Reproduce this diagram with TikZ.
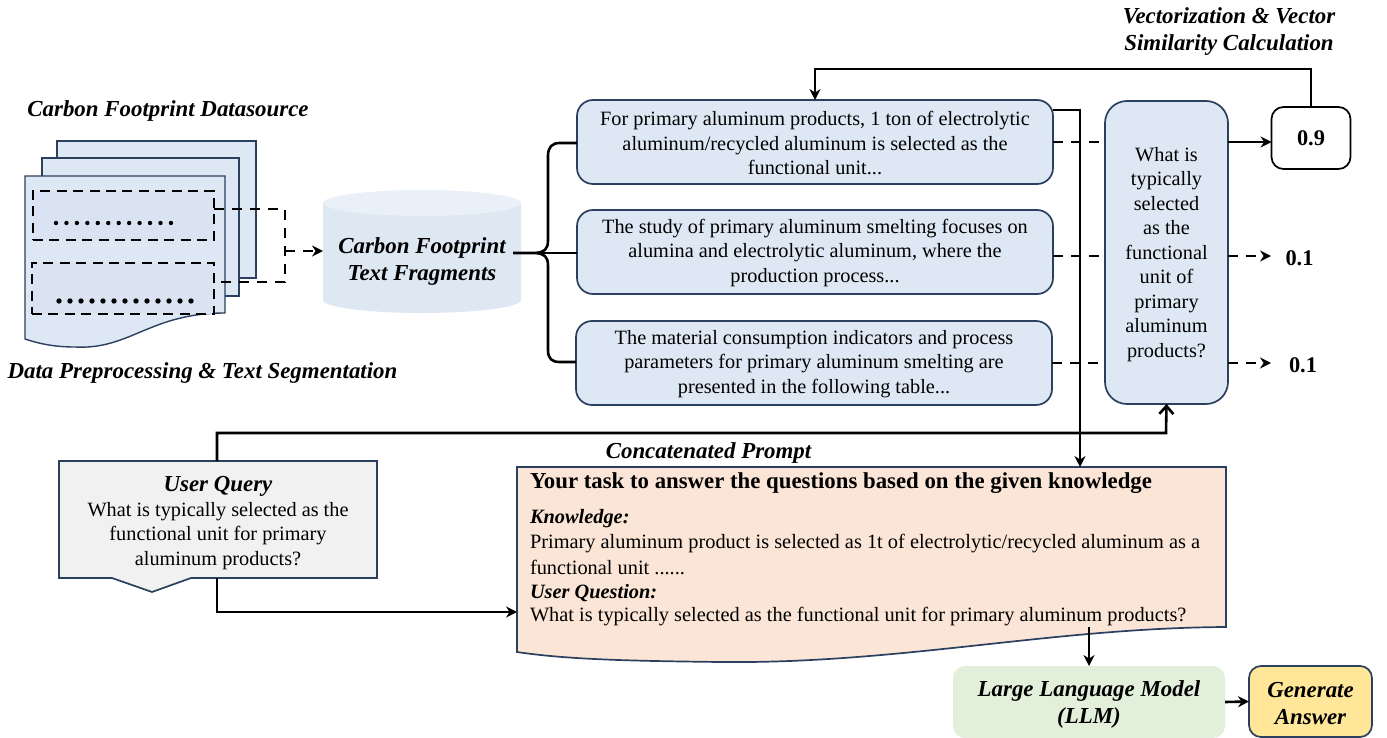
\documentclass[tikz,border=0pt]{standalone}
\usepackage{fontspec}
\setmainfont{Liberation Serif}
\usetikzlibrary{arrows.meta,calc}
\definecolor{bluefill}{HTML}{DEE8F4}
\definecolor{blueedge}{HTML}{2B3F5E}
\definecolor{innerfill}{HTML}{D9E3F2}
\definecolor{cylbody}{HTML}{DDE8F3}
\definecolor{cyltop}{HTML}{E9F0F8}
\definecolor{greyfill}{HTML}{F1F1F2}
\definecolor{peach}{HTML}{FBE5D6}
\definecolor{greenfill}{HTML}{E2EFDA}
\definecolor{yellowfill}{HTML}{FFE699}
\tikzset{
  x=0.5pt,y=-0.5pt,
  every node/.style={inner sep=0pt,outer sep=0pt},
  body/.style={font=\fontsize{10.15}{12.25}\selectfont,align=center},
  boxbody/.style={font=\fontsize{10.15}{12.1}\selectfont,align=center},
  head/.style={font=\fontsize{11.45}{13.5}\selectfont\bfseries\itshape,align=center},
  bluebox/.style={draw=blueedge,fill=bluefill,line width=0.85pt,rounded corners=8pt,minimum width=238pt,minimum height=42pt},
  pagesheet/.style={draw=blueedge,fill=bluefill,line width=0.7pt},
  segbox/.style={draw=black,fill=innerfill,line width=0.95pt,dash pattern=on 5pt off 3.2pt},
  solidline/.style={draw=black,line width=1.3pt},
  solidarrow/.style={solidline,-{Stealth[length=5.5pt,width=5.5pt]}},
  openarrow/.style={solidline,-{Straight Barb[length=4pt,width=7pt]}},
  dashline/.style={draw=black,line width=1pt,dash pattern=on 5pt off 4pt},
  dasharrow/.style={dashline,-{Stealth[length=5.5pt,width=5.5pt]}},
  promptline/.style={font=\fontsize{10.18}{12}\selectfont,anchor=west},
  score/.style={font=\fontsize{11.2}{12}\selectfont\bfseries},
}
\begin{document}
\begin{tikzpicture}
\useasboundingbox (0,0) rectangle (1387,738);
% pages
\draw[pagesheet] (57,141) rectangle (256,278);
\draw[pagesheet] (42,158) rectangle (239,296);
\draw[pagesheet] (25,176) -- (225,176) -- (225,313) .. controls (150,313) and (130,350) .. (75,347) .. controls (55,347) and (40,344) .. (25,339) -- cycle;
% segments
\node[segbox,minimum width=90.5pt,minimum height=24.5pt] (seg1) at (123.5,215.5) {};
\node[segbox,minimum width=91pt,minimum height=25.5pt] (seg2) at (123,288.5) {};
\foreach \i in {0,...,11}{\fill (56+\i*10.45,223) circle[radius=1.1pt];}
\foreach \i in {0,...,12}{\fill (59+\i*11,301) circle[radius=1.35pt];}
% cylinder
\fill[cylbody] (323,203) -- (323,300) arc[start angle=180,end angle=360,x radius=99,y radius=-13] -- (521,203) -- cycle;
\fill[cyltop] (422,203) ellipse[x radius=99,y radius=13];
\node[head,text=black] (frag) at (422,261.5) {Carbon Footprint\\Text Fragments};
\coordinate (cylw) at (323,251);
\coordinate (brace) at (513,253);
% texts
\node[head] (lab1) at (168,111) {Carbon Footprint Datasource};
\node[head] (lab2) at (202.5,373) {Data Preprocessing \& Text Segmentation};
\node[head,anchor=center] (lab3) at (1229,31.5) {Vectorization \& Vector\\Similarity Calculation};
\node[head] (lab4) at (708.5,453) {Concatenated Prompt};
% blue boxes
\node[bluebox] (b1) at (815,142) {};
\node[boxbody] (b1t) at (815,143) {For primary aluminum products, 1 ton of electrolytic\\aluminum/recycled aluminum is selected as the\\functional unit...};
\node[bluebox] (b2) at (815,252) {};
\node[boxbody] (b2t) at (815,253) {The study of primary aluminum smelting focuses on\\alumina and electrolytic aluminum, where the\\production process...};
\node[bluebox] (b3) at (814,363) {};
\node[boxbody] (b3t) at (814,364) {The material consumption indicators and process\\parameters for primary aluminum smelting are\\presented in the following table...};
\node[bluebox,minimum width=61.5pt,minimum height=151.5pt,rounded corners=11pt] (q) at (1166.5,252.5) {};
\node[body] (qt) at (1166.5,254.5) {What is\\typically\\selected\\as the\\functional\\unit of\\primary\\aluminum\\products?};
\node[draw=black,line width=0.85pt,rounded corners=6pt,fill=white,minimum width=39.5pt,minimum height=31pt,score] (s1) at (1311,138) {0.9};
\node[score] (s2) at (1299.5,258) {0.1};
\node[score] (s3) at (1303,365) {0.1};
% user query
\draw[draw=blueedge,fill=greyfill,line width=0.85pt] (59,461) -- (377,461) -- (377,578) -- (191,578) -- (152,592) -- (112,578) -- (59,578) -- cycle;
\node[body] (uq) at (218,523) {{\fontsize{11.45}{12.25}\selectfont\bfseries\itshape User Query}\\What is typically selected as the\\functional unit for primary\\aluminum products?};
\coordinate (uqtop) at (217,461);
\coordinate (uqbot) at (217,578);
% prompt
\draw[draw=blueedge,fill=peach,line width=0.85pt] (517,467) -- (1226,467) -- (1226,627) .. controls (1050,628) and (900,664) .. (720,662) .. controls (640,661) and (570,660) .. (517,652) -- cycle;
\node[anchor=west,font=\fontsize{11.4}{13}\selectfont\bfseries] (p0) at (530,483) {Your task to answer the questions based on the given knowledge};
\node[promptline,font=\fontsize{10.18}{12}\selectfont\bfseries\itshape] (p1) at (530,519) {Knowledge:};
\node[promptline] (p2) at (530,544) {Primary aluminum product is selected as 1t of electrolytic/recycled aluminum as a};
\node[promptline] (p3) at (530,567) {functional unit ......};
\node[promptline,font=\fontsize{10.18}{12}\selectfont\bfseries\itshape] (p4) at (530,593) {User Question:};
\node[promptline] (p5) at (530,617) {What is typically selected as the functional unit for primary aluminum products?};
\coordinate (ptop) at (1080,467);
\coordinate (pwest) at (517,612);
\coordinate (pbot) at (1089,627);
% LLM and answer
\node[fill=greenfill,rounded corners=6pt,minimum width=136pt,minimum height=36pt] (llm) at (1089,702) {};
\node[head] (llmtext) at (1089,704) {Large Language Model\\(LLM)};
\node[draw=blueedge,fill=yellowfill,line width=0.85pt,rounded corners=6pt,minimum width=61.5pt,minimum height=35.5pt] (ans) at (1310.5,701.5) {};
\node[head] (anstext) at (1310.5,704) {Generate\\Answer};
% connectors
\draw[dashline] ([yshift=3.25pt]seg1.east) -- (285,209) -- (285,282) -- ([yshift=3.25pt]seg2.east);
\draw[dasharrow] (285,251) -- (cylw);
\draw[solidline,line join=round] (brace) -- (536,253) .. controls (544,252) and (548,250) .. (548,240) -- (548,156) .. controls (548,147) and (552,143) .. (560,143) -- (b1.west |- 0,143);
\draw[solidline] (536,253) .. controls (544,254) and (548,256) .. (548,266) -- (548,350) .. controls (548,359) and (552,362) .. (560,362) -- (b3.west |- 0,362);
\draw[solidline] (540,253) -- (b2.west |- 0,253);
\coordinate (d2) at (1053,256);
\coordinate (d3) at (1052,363);
\draw[dashline] (b1.east) -- (q.west |- b1.east);
\draw[dashline] (d2) -- (q.west |- d2);
\draw[dashline] (d3) -- (q.west |- d3);
\draw[solidarrow] (q.east |- b1.east) -- (s1.west |- b1.east);
\draw[dasharrow] (q.east |- d2) -- (1271,256);
\draw[dasharrow] (q.east |- d3) -- (1271,363);
\draw[solidarrow] (s1.north) -- (1311,69) -- (815,69) -- (b1.north);
\draw[solidarrow] (b1.east |- 0,110) -- (1080,110) -- (ptop);
\draw[openarrow] (uqtop) -- (217,433) -- (1166,433) -- (q.south);
\draw[solidarrow] (uqbot) -- (217,612) -- (pwest);
\draw[solidarrow] (pbot) -- (llm.north -| pbot);
\draw[solidarrow] (llm.east) -- (ans.west);
\end{tikzpicture}
\end{document}
